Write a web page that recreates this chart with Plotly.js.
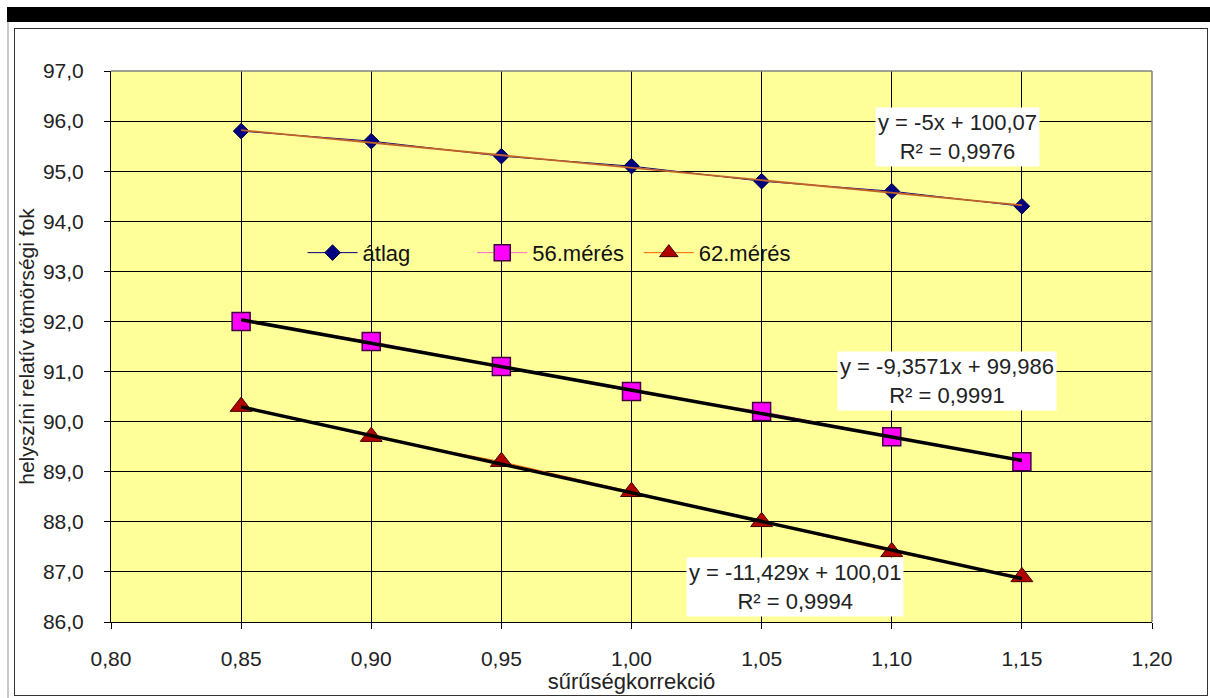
<!DOCTYPE html>
<html>
<head>
<meta charset="utf-8">
<script src="https://cdn.plot.ly/plotly-3.0.1.min.js"></script>
<style>
  html, body { margin:0; padding:0; background:#fff; width:1210px; height:698px; overflow:hidden; }
  #band { position:absolute; left:7px; top:7px; width:1203px; height:15px; background:#000; }
  #gline { position:absolute; left:7px; top:22px; width:2px; height:676px; background:#c8c8c8; }
  #frame { position:absolute; left:14px; top:28px; width:1192px; height:666px; border:1px solid #333; box-sizing:content-box; pointer-events:none; }
  #chart { position:absolute; left:15px; top:29px; width:1191px; height:665px; }
</style>
</head>
<body>
<div id="band"></div>
<div id="gline"></div>
<div id="chart"></div>
<div id="frame"></div>
<script>
// ---- data ----
const xValues = [0.85, 0.90, 0.95, 1.00, 1.05, 1.10, 1.15];
const atlag   = [95.8, 95.6, 95.3, 95.1, 94.8, 94.6, 94.3];
const meres56 = [92.0, 91.6, 91.1, 90.6, 90.2, 89.7, 89.2];
const meres62 = [90.3, 89.7, 89.2, 88.6, 88.0, 87.4, 86.9];
const seriesNames = ["átlag", "56.mérés", "62.mérés"];
// trendline coefficients as printed on the chart [slope, intercept]
const trendAtlag = [-5, 100.07];
const trend56    = [-9.3571, 99.986];
const trend62    = [-11.429, 100.01];
const eqTexts = [
  "y = -5x + 100,07<br>R² = 0,9976",
  "y = -9,3571x + 99,986<br>R² = 0,9991",
  "y = -11,429x + 100,01<br>R² = 0,9994"
];
const xTitle = "sűrűségkorrekció";
const yTitle = "helyszíni relatív tömörségi fok";

const FONT = "Liberation Sans, Arial, sans-serif";
const x0 = xValues[0], x1 = xValues[xValues.length - 1];
function trendTrace(c, color, width) {
  return {
    x: [x0, x1], y: [c[0] * x0 + c[1], c[0] * x1 + c[1]],
    mode: "lines", line: { color: color, width: width },
    showlegend: false, hoverinfo: "skip"
  };
}

const traces = [
  { x: xValues, y: atlag, name: seriesNames[0], mode: "lines+markers", legend: "legend",
    line: { color: "#000080", width: 1 },
    marker: { symbol: "diamond", size: 12, color: "#000080", line: { color: "#000040", width: 1 } } },
  { x: xValues, y: meres56, name: seriesNames[1], mode: "lines+markers", legend: "legend2",
    line: { color: "#FF66CC", width: 1 },
    marker: { symbol: "square", size: 18, color: "#FF00FF", line: { color: "#400040", width: 1.5 } } },
  { x: xValues, y: meres62, name: seriesNames[2], mode: "lines+markers", legend: "legend3",
    line: { color: "#FF6600", width: 1 },
    marker: { symbol: "triangle-up", size: 19, color: "#B00000", line: { color: "#400000", width: 1 } } },
  trendTrace(trendAtlag, "#C0602A", 1.8),
  trendTrace(trend56, "#000000", 3.5),
  trendTrace(trend62, "#000000", 3.5)
];

const legendBase = { orientation: "h", yanchor: "middle", y: 0.67, xanchor: "left",
  bgcolor: "rgba(0,0,0,0)", borderwidth: 0, font: { family: FONT, size: 22, color: "#111" },
  itemwidth: 50 };

const annBase = { xref: "x", yref: "y", showarrow: false, bgcolor: "#ffffff",
  font: { family: FONT, size: 22, color: "#222" }, align: "center", borderpad: 2 };

const layout = {
  width: 1191, height: 665,
  margin: { l: 96, r: 54, t: 42, b: 72 },
  paper_bgcolor: "#ffffff", plot_bgcolor: "#FFFF99",
  separators: ", ",
  font: { family: FONT, size: 20, color: "#222" },
  xaxis: {
    range: [0.8, 1.2], dtick: 0.05, tick0: 0.8, tickformat: ".2f",
    showgrid: true, gridcolor: "#000", gridwidth: 1, zeroline: false,
    showline: true, linecolor: "#000", linewidth: 1,
    ticks: "outside", ticklen: 6, tickcolor: "#000", ticklabelstandoff: 12,
    tickfont: { family: FONT, size: 21, color: "#222" },
    title: { text: xTitle, font: { family: FONT, size: 22, color: "#222" }, standoff: 0 }
  },
  yaxis: {
    range: [86, 97], dtick: 1, tick0: 86, tickformat: ".1f",
    showgrid: true, gridcolor: "#000", gridwidth: 1, zeroline: false,
    showline: true, linecolor: "#000", linewidth: 1,
    ticks: "outside", ticklen: 6, tickcolor: "#000", ticklabelstandoff: 16,
    tickfont: { family: FONT, size: 21, color: "#222" },
    title: { text: yTitle, font: { family: FONT, size: 21, color: "#222" }, standoff: 2 }
  },
  legend: Object.assign({}, legendBase, { x: 0.184 }),
  legend2: Object.assign({}, legendBase, { x: 0.347 }),
  legend3: Object.assign({}, legendBase, { x: 0.507 }),
  shapes: [
    { type: "line", xref: "paper", yref: "paper", x0: 0, x1: 1, y0: 1, y1: 1, line: { color: "#808080", width: 1.5 } },
    { type: "line", xref: "paper", yref: "paper", x0: 1, x1: 1, y0: 0, y1: 1, line: { color: "#808080", width: 1.5 } }
  ],
  annotations: [
    Object.assign({}, annBase, { x: 1.1253, y: 95.683, text: eqTexts[0] }),
    Object.assign({}, annBase, { x: 1.1214, y: 90.81, text: eqTexts[1] }),
    Object.assign({}, annBase, { x: 1.0628, y: 86.69, text: eqTexts[2] })
  ]
};

Plotly.newPlot("chart", traces, layout, { displayModeBar: false, staticPlot: true });
</script>
</body>
</html>
